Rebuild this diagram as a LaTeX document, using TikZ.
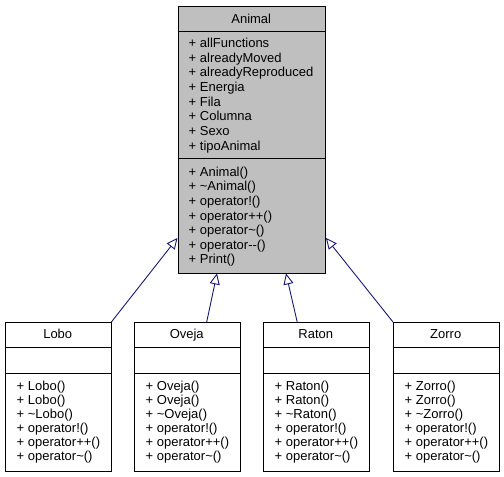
\documentclass[tikz,border=0pt]{standalone}
\usepackage{fontspec}
\setmainfont{Liberation Sans}
\usetikzlibrary{arrows.meta}
\definecolor{edgeblue}{HTML}{191970}
\definecolor{classgray}{HTML}{BFBFBF}
\tikzset{
  classbox/.style={draw=black, line width=0.9pt, anchor=north west, inner sep=0pt},
  sepline/.style={draw=black, line width=0.9pt},
  txt/.style={anchor=base west, inner sep=0pt, font=\fontsize{13}{14}\selectfont},
  ttl/.style={anchor=base, inner sep=0pt, font=\fontsize{13}{14}\selectfont},
  inherit/.style={draw=edgeblue, line width=0.9pt, -{Triangle[open, length=11pt, width=10pt]}}
}
\newcommand\bottomclass[3]{%
  \node[classbox, minimum width=105.5pt, minimum height=148.5pt] (#1) at (#2,322) {};
  \node[ttl] (#1-title) at ({#2+52.75},338.7) {#3};
  \draw[sepline] (#1.west |- 0,347) -- (#1.east |- 0,347);
  \draw[sepline] (#1.west |- 0,373) -- (#1.east |- 0,373);
  \foreach \t [count=\i from 0] in {+ #3(), + #3(), + \textasciitilde{}#3(), + operator!(), + operator++(), + operator\textasciitilde()}
    \node[txt] (#1-m\i) at ({#2+11.5},{390.6+14*\i}) {\t};
}
\begin{document}
\begin{tikzpicture}[x=1pt,y=-1pt]
\useasboundingbox (0,0) rectangle (504,477);
% Animal
\node[classbox, fill=classgray, minimum width=147.5pt, minimum height=266.5pt] (animal) at (177.5,6) {};
\node[ttl] (animal-title) at (251.25,23) {Animal};
\draw[sepline] (animal.west |- 0,31) -- (animal.east |- 0,31);
\draw[sepline] (animal.west |- 0,158.5) -- (animal.east |- 0,158.5);
\foreach \t [count=\i from 0] in {+ allFunctions, + alreadyMoved, + alreadyReproduced, + Energia, + Fila, + Columna, + Sexo, + tipoAnimal}
  \node[txt] (animal-a\i) at (188.5,{47.3+14.7*\i}) {\t};
\foreach \t [count=\i from 0] in {+ Animal(), + \textasciitilde{}Animal(), + operator!(), + operator++(), + operator\textasciitilde(), + operator-{}-(), + Print()}
  \node[txt] (animal-m\i) at (188.5,{176.3+14.6*\i}) {\t};
% children
\bottomclass{lobo}{5}{Lobo}
\bottomclass{oveja}{134}{Oveja}
\bottomclass{raton}{263}{Raton}
\bottomclass{zorro}{393}{Zorro}
% inheritance
\draw[inherit] (lobo.north east) -- ([yshift=35.5pt]animal.south west);
\draw[inherit] ([xshift=19.5pt]oveja.north) -- ([xshift=39.5pt]animal.south west);
\draw[inherit] ([xshift=-19pt]raton.north) -- ([xshift=108.5pt]animal.south west);
\draw[inherit] (zorro.north west) -- ([yshift=35.5pt]animal.south east);
\end{tikzpicture}
\end{document}
